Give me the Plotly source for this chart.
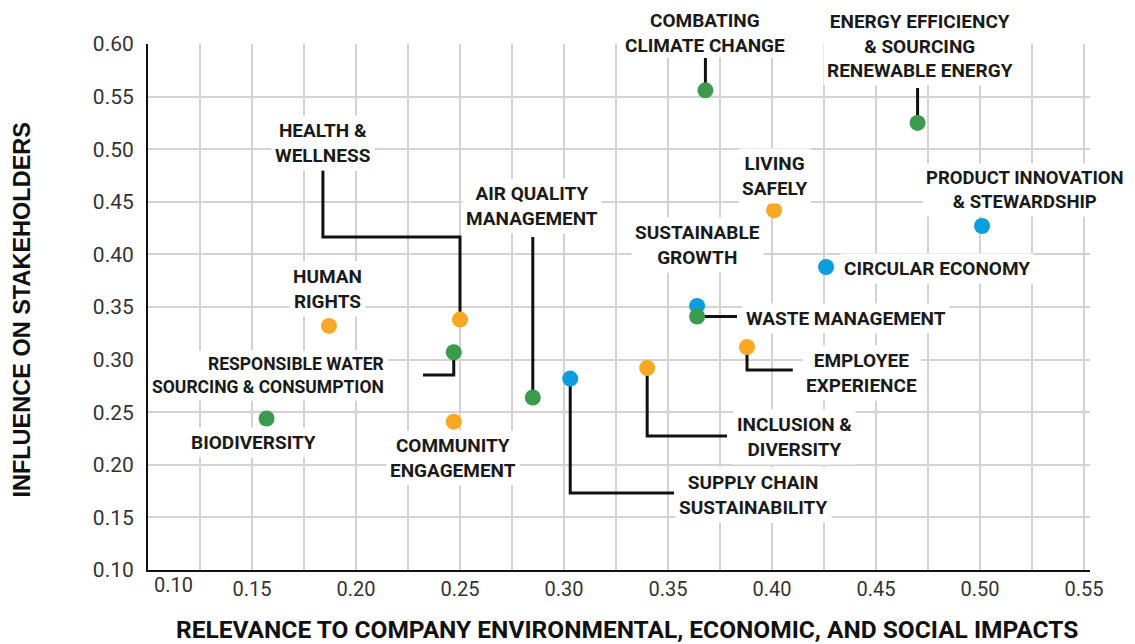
import plotly.graph_objects as go

# ---------------- data ----------------
topics = ["COMBATING CLIMATE CHANGE", "ENERGY EFFICIENCY & SOURCING RENEWABLE ENERGY",
          "LIVING SAFELY", "PRODUCT INNOVATION & STEWARDSHIP", "CIRCULAR ECONOMY",
          "SUSTAINABLE GROWTH", "WASTE MANAGEMENT", "EMPLOYEE EXPERIENCE",
          "INCLUSION & DIVERSITY", "SUPPLY CHAIN SUSTAINABILITY", "AIR QUALITY MANAGEMENT",
          "HEALTH & WELLNESS", "RESPONSIBLE WATER SOURCING & CONSUMPTION", "HUMAN RIGHTS",
          "COMMUNITY ENGAGEMENT", "BIODIVERSITY"]
relevance = [0.368, 0.470, 0.401, 0.501, 0.426, 0.364, 0.364, 0.388,
             0.340, 0.303, 0.285, 0.250, 0.247, 0.187, 0.247, 0.157]
influence = [0.556, 0.525, 0.442, 0.427, 0.388, 0.351, 0.341, 0.312,
             0.292, 0.282, 0.264, 0.338, 0.307, 0.332, 0.241, 0.244]
group = ["env", "env", "soc", "eco", "eco", "eco", "env", "soc",
         "soc", "eco", "env", "soc", "env", "soc", "soc", "env"]

x_ticks = [0.15, 0.20, 0.25, 0.30, 0.35, 0.40, 0.45, 0.50, 0.55]
y_ticks = [0.10, 0.15, 0.20, 0.25, 0.30, 0.35, 0.40, 0.45, 0.50, 0.55, 0.60]

# ---------------- styles / label layout ----------------
COLORS = {"env": "#3b9a4b", "soc": "#f9a825", "eco": "#0a9fdc"}
LABEL_FONT = dict(family="Roboto", size=19, color="#1a1a1a", weight="bold")

# label: (text, x, y, xanchor, yanchor, align, font size, padding)
labels = {
    "COMBATING CLIMATE CHANGE": ("COMBATING<br>CLIMATE CHANGE", 0.368, 0.5867, "center", "bottom", "center", 19, 0),
    "ENERGY EFFICIENCY & SOURCING RENEWABLE ENERGY": ("ENERGY EFFICIENCY<br>&amp; SOURCING<br>RENEWABLE ENERGY", 0.471, 0.560, "center", "bottom", "center", 19, 3),
    "LIVING SAFELY": ("LIVING<br>SAFELY", 0.401, 0.4745, "center", "middle", "center", 19, 3),
    "PRODUCT INNOVATION & STEWARDSHIP": ("PRODUCT INNOVATION<br>&amp; STEWARDSHIP", 0.5215, 0.461, "center", "middle", "center", 18.5, 3),
    "CIRCULAR ECONOMY": ("CIRCULAR ECONOMY", 0.4327, 0.387, "left", "middle", "left", 19, 3),
    "SUSTAINABLE GROWTH": ("SUSTAINABLE<br>GROWTH", 0.364, 0.409, "center", "middle", "center", 19, 3),
    "WASTE MANAGEMENT": ("WASTE MANAGEMENT", 0.3856, 0.3395, "left", "middle", "left", 19, 3),
    "EMPLOYEE EXPERIENCE": ("EMPLOYEE<br>EXPERIENCE", 0.443, 0.287, "center", "middle", "center", 19, 3),
    "INCLUSION & DIVERSITY": ("INCLUSION &amp;<br>DIVERSITY", 0.411, 0.2264, "center", "middle", "center", 19, 3),
    "SUPPLY CHAIN SUSTAINABILITY": ("SUPPLY CHAIN<br>SUSTAINABILITY", 0.391, 0.171, "center", "middle", "center", 19, 3),
    "AIR QUALITY MANAGEMENT": ("AIR QUALITY<br>MANAGEMENT", 0.2846, 0.446, "center", "middle", "center", 19, 3),
    "HEALTH & WELLNESS": ("HEALTH &amp;<br>WELLNESS", 0.184, 0.506, "center", "middle", "center", 19, 3),
    "RESPONSIBLE WATER SOURCING & CONSUMPTION": ("RESPONSIBLE WATER<br>SOURCING &amp; CONSUMPTION", 0.2154, 0.285, "right", "middle", "right", 17.5, 3),
    "HUMAN RIGHTS": ("HUMAN<br>RIGHTS", 0.1865, 0.367, "center", "middle", "center", 19, 3),
    "COMMUNITY ENGAGEMENT": ("COMMUNITY<br>ENGAGEMENT", 0.2466, 0.2065, "center", "middle", "center", 19, 3),
    "BIODIVERSITY": ("BIODIVERSITY", 0.1505, 0.221, "center", "middle", "center", 19, 3),
}

# leader line bends, from the point outwards (data units)
leaders = {
    "COMBATING CLIMATE CHANGE": [(None, 0.5867)],
    "ENERGY EFFICIENCY & SOURCING RENEWABLE ENERGY": [(None, 0.5582)],
    "HEALTH & WELLNESS": [(None, 0.4165), (0.1841, 0.4165), (0.1841, 0.480)],
    "AIR QUALITY MANAGEMENT": [(None, 0.4165)],
    "RESPONSIBLE WATER SOURCING & CONSUMPTION": [(None, 0.2854), (0.2322, 0.2854)],
    "WASTE MANAGEMENT": [(0.3832, None)],
    "EMPLOYEE EXPERIENCE": [(None, 0.290), (0.410, 0.290)],
    "INCLUSION & DIVERSITY": [(None, 0.2274), (0.3784, 0.2274)],
    "SUPPLY CHAIN SUSTAINABILITY": [(None, 0.1732), (0.3529, 0.1732)],
}

fig = go.Figure()

# leader lines
for name, bends in leaders.items():
    i = topics.index(name)
    xs, ys = [relevance[i]], [influence[i]]
    for bx, by in bends:
        xs.append(xs[-1] if bx is None else bx)
        ys.append(ys[-1] if by is None else by)
    fig.add_trace(go.Scatter(x=xs, y=ys, mode="lines", line=dict(color="#111111", width=3),
                             hoverinfo="skip", showlegend=False, cliponaxis=False))

# points
fig.add_trace(go.Scatter(
    x=relevance, y=influence, mode="markers", text=topics,
    marker=dict(size=16, color=[COLORS[g] for g in group], line=dict(width=0)),
    showlegend=False, cliponaxis=False, hovertemplate="%{text}<extra></extra>"))

annotations = []
for name in topics:
    t, lx, ly, xa, ya, al, fs, pad = labels[name]
    annotations.append(dict(x=lx, y=ly, xref="x", yref="y", text=t, showarrow=False,
                            xanchor=xa, yanchor=ya, align=al, font=dict(LABEL_FONT, size=fs),
                            bgcolor="white", borderpad=pad))

# first x tick label sits to the right of the corner
annotations.append(dict(x=0.10, y=0.10, xref="x", yref="y", text="0.10", showarrow=False,
                        xanchor="left", yanchor="top", xshift=4, yshift=-1,
                        font=dict(family="Roboto", size=20, color="#333333")))

# axis titles
annotations.append(dict(x=0.5085, y=-0.114, xref="paper", yref="paper",
                        text="RELEVANCE TO COMPANY ENVIRONMENTAL, ECONOMIC, AND SOCIAL IMPACTS",
                        showarrow=False, xanchor="center", yanchor="middle",
                        font=dict(family="Roboto", size=24.5, color="#111111", weight="bold")))
annotations.append(dict(x=-0.1338, y=0.495, xref="paper", yref="paper",
                        text="INFLUENCE ON STAKEHOLDERS", textangle=-90,
                        showarrow=False, xanchor="center", yanchor="middle",
                        font=dict(family="Liberation Sans", size=23.5, color="#111111", weight="bold")))

# the page body adds an 8px offset, so the figure is 8px smaller and margins shifted
fig.update_layout(
    width=1127, height=636,
    margin=dict(l=140, r=45, t=36, b=74),
    paper_bgcolor="white", plot_bgcolor="white",
    annotations=annotations,
    xaxis=dict(range=[0.10, 0.5529], tickvals=x_ticks, ticktext=[f"{v:.2f}" for v in x_ticks],
               showgrid=True, gridcolor="#d3d3d3", gridwidth=1.5,
               minor=dict(dtick=0.025, tick0=0.10, showgrid=True, gridcolor="#d3d3d3", gridwidth=1.5),
               showline=True, linecolor="#111111", linewidth=2, zeroline=False,
               tickfont=dict(family="Roboto", size=20, color="#333333"), ticks="", fixedrange=True),
    yaxis=dict(range=[0.10, 0.60], tickvals=y_ticks, ticktext=[f"{v:.2f}" for v in y_ticks],
               showgrid=True, gridcolor="#d3d3d3", gridwidth=1.5,
               showline=True, linecolor="#111111", linewidth=2, zeroline=False,
               tickfont=dict(family="Roboto", size=21, color="#333333"), ticks="",
               ticklabelstandoff=8, fixedrange=True),
)

fig.write_html("out.html")
